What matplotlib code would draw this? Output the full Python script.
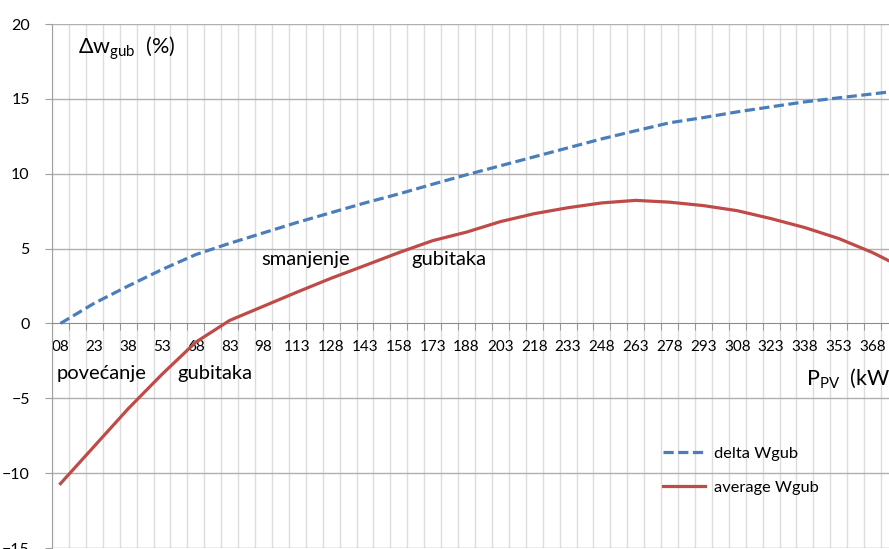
import numpy as np
import matplotlib
matplotlib.use('Agg')
import matplotlib.pyplot as plt

plt.rcParams['font.family'] = ['Lato', 'DejaVu Sans']
plt.rcParams['mathtext.fontset'] = 'custom'
plt.rcParams['mathtext.rm'] = 'Lato'
plt.rcParams['mathtext.it'] = 'Lato'

# Data (category centres every 15 kW; one more point past the right edge)
p_pv = np.array([8, 23, 38, 53, 68, 83, 98, 113, 128, 143, 158, 173, 188, 203, 218,
                 233, 248, 263, 278, 293, 308, 323, 338, 353, 368, 383])
tick_labels = ['08', '23', '38', '53', '68', '83', '98', '113', '128', '143', '158', '173',
               '188', '203', '218', '233', '248', '263', '278', '293', '308', '323', '338',
               '353', '368']
delta_wgub = np.array([0.0, 1.35, 2.5, 3.6, 4.6, 5.35, 6.05, 6.75, 7.4, 8.05, 8.65, 9.3,
                       9.93, 10.53, 11.13, 11.73, 12.33, 12.87, 13.4, 13.75, 14.13, 14.47,
                       14.8, 15.07, 15.33, 15.6])
average_wgub = np.array([-10.7, -8.2, -5.7, -3.4, -1.25, 0.2, 1.15, 2.1, 3.02, 3.87, 4.73,
                         5.53, 6.1, 6.8, 7.33, 7.73, 8.05, 8.22, 8.1, 7.87, 7.53, 7.0,
                         6.4, 5.67, 4.73, 3.6])

W, H = 889, 549
fig = plt.figure(figsize=(W / 100, H / 100), dpi=100)
ax = fig.add_axes([52 / W, 1 / H, (W - 52) / W, 524 / H])

# gridlines
for xb in np.arange(4.25, 400, 7.5):
    ax.axvline(xb, color='#dcdcdc', lw=1.0, zorder=0)
for yv in [-15, -10, -5, 5, 10, 15, 20]:
    ax.axhline(yv, color='#b0b0b0', lw=1.0, zorder=0)

ax.plot(p_pv, delta_wgub, color='#4a7ebb', lw=2.3, dashes=(3.2, 1.4),
        label='delta Wgub', zorder=3)
ax.plot(p_pv, average_wgub, color='#be4b48', lw=2.3, label='average Wgub', zorder=3)

# axes styling
for s in ['top', 'right']:
    ax.spines[s].set_visible(False)
ax.spines['left'].set_color('#a0a0a0')
ax.spines['bottom'].set_position(('data', 0))
ax.spines['bottom'].set_color('#8c8c8c')

ax.set_yticks([-15, -10, -5, 0, 5, 10, 15, 20])
ax.tick_params(axis='y', length=5, color='#a0a0a0', pad=11, labelsize=11.5)
ax.set_xticks(p_pv[:len(tick_labels)])
ax.set_xticklabels(tick_labels)
ax.set_xticks(np.arange(4.25, 390, 7.5), minor=True)
ax.tick_params(axis='x', which='major', length=0, pad=12, labelsize=11)
ax.tick_params(axis='x', which='minor', length=5, color='#8c8c8c', direction='out')

# limits last, so the tick calls cannot widen them
ax.set_ylim(-15, 20)
ax.set_xlim(4.25, 4.25 + 837 / 16.92 * 7.5)

# annotations
ax.text(78 / W, 1 - 48 / H, r'$\Delta$w$_{\rm gub}$  (%)', transform=fig.transFigure,
        fontsize=15.5, va='center', ha='left')
ax.text(806 / W, 1 - 378 / H, r'P$_{\rm PV}$  (kW', transform=fig.transFigure,
        fontsize=15.5, va='center', ha='left')
ax.text(57 / W, 1 - 374 / H, 'povećanje', transform=fig.transFigure, fontsize=14.5, va='center')
ax.text(177 / W, 1 - 374 / H, 'gubitaka', transform=fig.transFigure, fontsize=14.5, va='center')
ax.text(261 / W, 1 - 259 / H, 'smanjenje', transform=fig.transFigure, fontsize=14.5, va='center')
ax.text(411 / W, 1 - 259 / H, 'gubitaka', transform=fig.transFigure, fontsize=14.5, va='center')

ax.legend(loc='upper left', bbox_to_anchor=(648 / W, 1 - 432 / H),
          bbox_transform=fig.transFigure, frameon=False, fontsize=11.8,
          handlelength=2.6, labelspacing=1.15, handletextpad=0.5)

fig.savefig('out.png', dpi=100)
